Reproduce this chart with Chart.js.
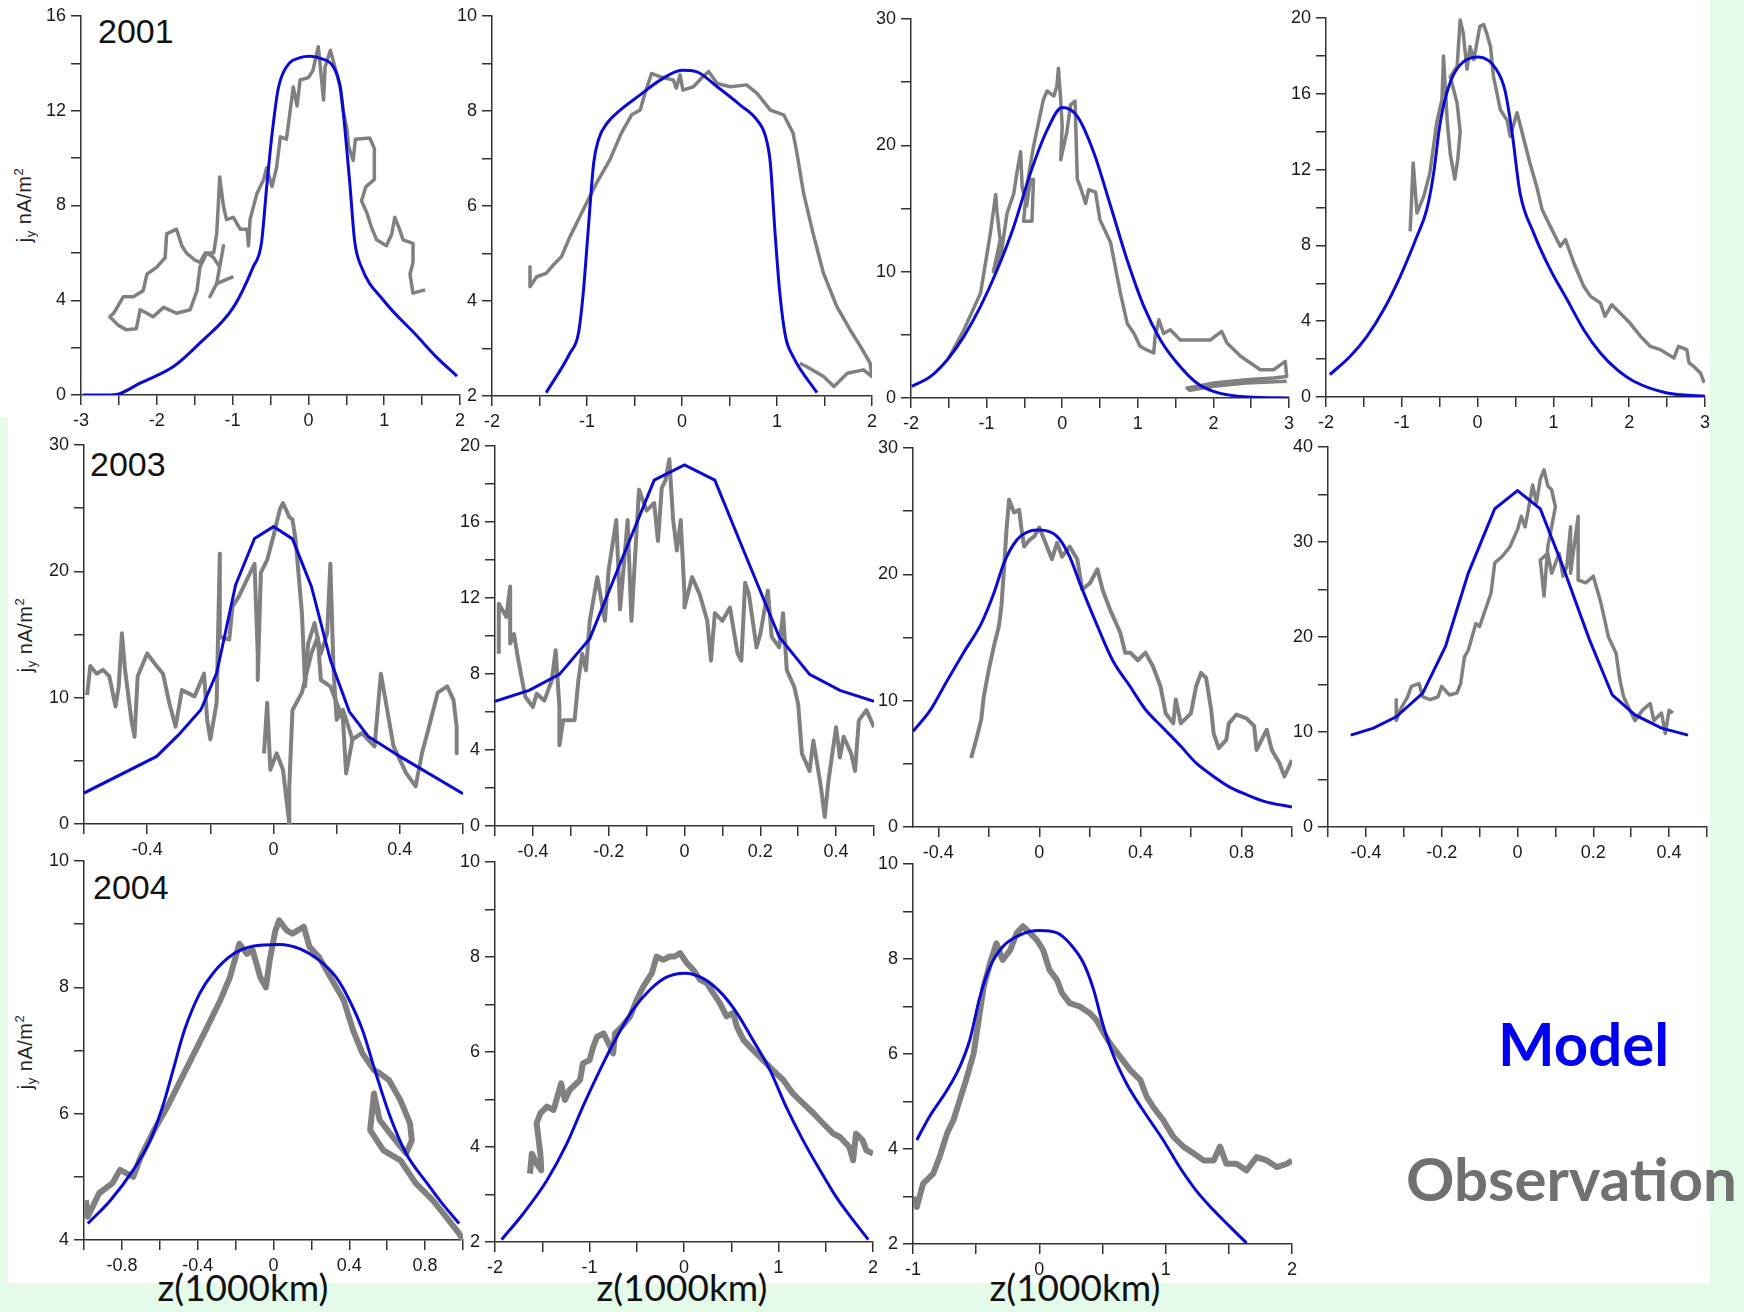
<!DOCTYPE html>
<html>
<head>
<meta charset="utf-8">
<script src="https://cdn.jsdelivr.net/npm/chart.js@4.4.0/dist/chart.umd.min.js"></script>
<style>
  html, body { margin: 0; padding: 0; }
  body { width: 1744px; height: 1312px; background: #e5fbe9; position: relative; overflow: hidden; font-family: "Liberation Sans", Arial, sans-serif; }
  #sheet { position: absolute; left: 8px; top: 0; width: 1702px; height: 1283px; background: #fff; }
  #sheetTop { position: absolute; left: 0; top: 0; width: 10px; height: 417px; background: #fff; }
  canvas { position: absolute; }
  .year { position: absolute; font-size: 34px; line-height: 34px; color: #111; }
  .ytitle { position: absolute; font-size: 20px; line-height: 24px; white-space: nowrap; color: #222; letter-spacing: 0.5px;
            transform: translate(-50%, -50%) rotate(-90deg); }
  .ytitle sub { font-size: 13px; vertical-align: -4px; }
  .ytitle sup { font-size: 13px; vertical-align: 8px; }
  .xtitle { position: absolute; font-family: Lato, sans-serif; font-size: 37px; line-height: 1.2; color: #111; transform: translateX(-50%); white-space: nowrap; }
  .legend { position: absolute; font-family: Lato, sans-serif; font-weight: bold; font-size: 60px; line-height: 1.2; white-space: nowrap; }
</style>
</head>
<body>
<div id="sheet"></div>
<div id="sheetTop"></div>

<div class="year" style="left:98px; top:14px;">2001</div>
<div class="year" style="left:90px; top:447px;">2003</div>
<div class="year" style="left:93px; top:870px;">2004</div>

<div class="ytitle" style="left:25px; top:205px;">j<sub>y</sub> nA/m<sup>2</sup></div>
<div class="ytitle" style="left:26px; top:635px;">j<sub>y</sub> nA/m<sup>2</sup></div>
<div class="ytitle" style="left:26px; top:1052px;">j<sub>y</sub> nA/m<sup>2</sup></div>

<div class="xtitle" style="left:243px; top:1265px;">z(1000km)</div>
<div class="xtitle" style="left:682px; top:1265px;">z(1000km)</div>
<div class="xtitle" style="left:1075px; top:1265px;">z(1000km)</div>

<div class="legend" style="left:1498px; top:1007px; color:#0000f0;">Model</div>
<div class="legend" style="left:1406px; top:1142px; color:#707070;">Observation</div>

<script>
// ---- tick positions and labelled ticks ----
const xTicksM3to2 = [-3, -2.5, -2, -1.5, -1, -0.5, 0, 0.5, 1, 1.5, 2];
const xLabelsM3to2 = [-3, -2, -1, 0, 1, 2];
const xTicksM2to2 = [-2, -1.5, -1, -0.5, 0, 0.5, 1, 1.5, 2];
const xLabelsM2to2 = [-2, -1, 0, 1, 2];
const xTicksM2to3 = [-2, -1.5, -1, -0.5, 0, 0.5, 1, 1.5, 2, 2.5, 3];
const xLabelsM2to3 = [-2, -1, 0, 1, 2, 3];
const xTicksM1to2 = [-1, -0.5, 0, 0.5, 1, 1.5, 2];
const xLabelsM1to2 = [-1, 0, 1, 2];
const xTicksPm06 = [-0.6, -0.4, -0.2, 0, 0.2, 0.4, 0.6];
const xLabelsPm06 = [-0.4, 0, 0.4];
const xTicksPm05 = [-0.5, -0.4, -0.3, -0.2, -0.1, 0, 0.1, 0.2, 0.3, 0.4, 0.5];
const xLabelsPm05 = [-0.4, -0.2, 0, 0.2, 0.4];
const xTicksM05to1 = [-0.4, -0.2, 0, 0.2, 0.4, 0.6, 0.8, 1];
const xLabelsM05to1 = [-0.4, 0, 0.4, 0.8];
const xTicksPm1 = [-1, -0.8, -0.6, -0.4, -0.2, 0, 0.2, 0.4, 0.6, 0.8, 1];
const xLabelsPm1 = [-0.8, -0.4, 0, 0.4, 0.8];

const yTicks0to16 = [0, 2, 4, 6, 8, 10, 12, 14, 16];
const yLabels0to16 = [0, 4, 8, 12, 16];
const yTicks2to10 = [2, 3, 4, 5, 6, 7, 8, 9, 10];
const yLabels2to10 = [2, 4, 6, 8, 10];
const yTicks0to30 = [0, 5, 10, 15, 20, 25, 30];
const yLabels0to30 = [0, 10, 20, 30];
const yTicks0to20 = [0, 2, 4, 6, 8, 10, 12, 14, 16, 18, 20];
const yLabels0to20 = [0, 4, 8, 12, 16, 20];
const yTicks0to40 = [0, 5, 10, 15, 20, 25, 30, 35, 40];
const yLabels0to40 = [0, 10, 20, 30, 40];
const yTicks4to10 = [4, 5, 6, 7, 8, 9, 10];
const yLabels4to10 = [4, 6, 8, 10];

// ---- 2001 ----
const model01a = [[-2.97,0],[-2.66,0],[-2.5,0.05],[-2.22,0.5],[-1.78,1.2],[-1.43,2.2],[-0.99,3.7],[-0.73,5.4],[-0.62,6.4],[-0.55,8.8],[-0.48,11.0],[-0.40,12.9],[-0.29,13.85],[-0.11,14.24],[0.02,14.3],[0.17,14.2],[0.33,13.85],[0.42,13.0],[0.48,11.3],[0.55,8.8],[0.61,6.5],[0.70,5.4],[0.99,4.0],[1.43,2.5],[1.69,1.6],[1.96,0.8]];
const obs01a = [[1.54,4.44],[1.38,4.3],[1.34,5.1],[1.38,5.6],[1.38,6.4],[1.25,6.55],[1.19,7.1],[1.14,7.5],[1.10,6.8],[1.03,6.3],[0.90,6.55],[0.83,7.1],[0.77,7.7],[0.70,8.2],[0.76,8.8],[0.87,9.1],[0.87,10.4],[0.81,10.85],[0.62,10.8],[0.59,9.9],[0.53,10.5],[0.51,11.2],[0.46,12.0],[0.42,13.0],[0.35,13.85],[0.29,14.55],[0.22,13.85],[0.20,12.45],[0.15,14.1],[0.13,14.7],[0.06,13.7],[0.0,13.4],[-0.11,13.3],[-0.15,12.2],[-0.20,13.0],[-0.24,12.0],[-0.29,10.8],[-0.37,10.9],[-0.42,9.6],[-0.48,8.8],[-0.55,9.6],[-0.59,9.1],[-0.68,8.5],[-0.77,7.4],[-0.79,6.3],[-0.81,7.0],[-0.90,7.0],[-0.99,7.5],[-1.08,7.4],[-1.12,7.95],[-1.17,9.2],[-1.19,7.95],[-1.21,6.8],[-1.25,6.0],[-1.36,6.0],[-1.43,5.6],[-1.50,5.7],[-1.61,6.0],[-1.67,6.3],[-1.74,7.0],[-1.87,6.8],[-1.89,5.8],[-2.0,5.4],[-2.13,5.1],[-2.18,4.4],[-2.31,4.15],[-2.44,4.15],[-2.57,3.45],[-2.62,3.3],[-2.51,2.95],[-2.40,2.75],[-2.27,2.8],[-2.22,3.6],[-2.13,3.45],[-2.05,3.3],[-1.91,3.7],[-1.74,3.45],[-1.56,3.6],[-1.47,4.4],[-1.43,5.4],[-1.34,6.0],[-1.25,5.8],[-1.17,5.4],[-1.12,6.3],[-1.21,4.7],[-1.30,4.15],[-1.21,4.7],[-0.99,5.0]];

const model01b = [[-1.43,2.07],[-1.18,2.9],[-1.09,3.32],[-1.04,4.16],[-0.99,5.42],[-0.93,6.9],[-0.88,7.39],[-0.79,7.74],[-0.65,8.02],[-0.44,8.34],[-0.23,8.65],[0.0,8.86],[0.15,8.83],[0.37,8.51],[0.61,8.13],[0.79,7.81],[0.88,7.46],[0.93,6.9],[0.98,5.42],[1.03,4.16],[1.09,3.25],[1.17,2.83],[1.42,2.07]];
const obs01b = [[-1.60,4.72],[-1.6,4.3],[-1.53,4.51],[-1.43,4.58],[-1.34,4.79],[-1.27,4.93],[-1.18,5.35],[-1.04,5.92],[-0.90,6.48],[-0.76,6.97],[-0.64,7.53],[-0.53,7.92],[-0.44,8.02],[-0.39,8.37],[-0.32,8.79],[-0.23,8.72],[-0.09,8.65],[-0.06,8.48],[-0.02,8.76],[0.01,8.44],[0.12,8.51],[0.22,8.72],[0.28,8.83],[0.37,8.58],[0.51,8.51],[0.68,8.55],[0.79,8.37],[0.93,8.02],[1.07,7.92],[1.17,7.53],[1.21,7.11],[1.28,6.27],[1.38,5.42],[1.49,4.58],[1.63,3.88],[1.77,3.39],[1.88,3.04],[1.98,2.69],[2.0,2.41],[1.91,2.55],[1.74,2.48],[1.60,2.2],[1.49,2.41],[1.31,2.62],[1.24,2.69]];

const model01c = [[-1.99,0.92],[-1.74,1.71],[-1.52,3.03],[-1.30,4.88],[-1.08,7.25],[-0.86,10.15],[-0.64,13.58],[-0.42,17.8],[-0.20,21.2],[0.0,23.0],[0.20,22.3],[0.42,19.4],[0.64,15.2],[0.86,10.9],[1.08,7.25],[1.30,4.6],[1.52,2.77],[1.78,1.19],[2.0,0.53],[2.45,0.08],[3.0,0]];
const obs01c = [[-1.50,3.16],[-1.30,5.4],[-1.08,8.3],[-0.95,13.05],[-0.88,16.1],[-0.86,14.6],[-0.82,12.5],[-0.91,10.0],[-0.80,11.7],[-0.73,14.6],[-0.64,16.2],[-0.60,17.8],[-0.55,19.5],[-0.53,16.7],[-0.47,15.2],[-0.42,17.3],[-0.38,17.3],[-0.40,14.0],[-0.51,14.0],[-0.47,16.7],[-0.38,19.9],[-0.25,23.6],[-0.20,24.3],[-0.11,23.9],[-0.07,24.7],[-0.05,26.1],[-0.02,23.6],[0.0,21.5],[-0.02,18.85],[0.06,21.0],[0.11,23.2],[0.17,23.5],[0.20,17.3],[0.24,16.7],[0.31,15.4],[0.35,16.5],[0.44,16.3],[0.50,14.1],[0.64,12.3],[0.77,8.3],[0.86,5.9],[0.95,5.1],[1.03,4.1],[1.12,3.8],[1.21,3.56],[1.23,4.9],[1.28,6.2],[1.34,5.1],[1.43,5.4],[1.56,4.6],[1.74,4.6],[1.96,4.6],[2.11,5.27],[2.18,4.35],[2.36,3.3],[2.62,2.24],[2.80,2.24],[2.95,2.9],[2.97,1.71],[2.80,1.58],[2.44,1.45],[2.0,1.19],[1.78,0.92],[1.65,0.79],[1.69,0.61],[2.0,0.92],[2.44,1.19],[2.97,1.32]];

const model01d = [[-1.95,1.18],[-1.68,2.15],[-1.46,3.2],[-1.24,4.6],[-1.02,6.37],[-0.80,8.48],[-0.67,9.9],[-0.58,11.8],[-0.50,14.3],[-0.41,16.0],[-0.28,17.27],[0.01,17.94],[0.25,17.27],[0.36,16.2],[0.45,14.1],[0.56,10.77],[0.74,8.65],[0.96,6.72],[1.18,5.14],[1.40,3.55],[1.62,2.32],[1.84,1.44],[2.06,0.83],[2.5,0.21],[3.0,0.04]];
const obs01d = [[-0.89,8.74],[-0.85,12.35],[-0.82,10.77],[-0.80,9.71],[-0.71,10.6],[-0.63,11.8],[-0.54,14.46],[-0.47,15.7],[-0.45,18.0],[-0.43,16.6],[-0.40,14.5],[-0.36,12.8],[-0.30,11.5],[-0.26,12.6],[-0.23,14.0],[-0.27,15.5],[-0.36,16.9],[-0.27,17.45],[-0.23,19.9],[-0.19,19.2],[-0.14,17.3],[-0.10,18.5],[-0.05,17.8],[0.03,19.56],[0.08,19.65],[0.12,19.2],[0.17,18.5],[0.21,16.9],[0.30,15.16],[0.39,14.6],[0.43,13.75],[0.52,15.0],[0.61,13.6],[0.69,12.35],[0.78,11.1],[0.85,9.9],[0.96,9.0],[1.09,7.95],[1.16,8.3],[1.27,7.07],[1.40,5.84],[1.49,5.31],[1.62,4.96],[1.68,4.26],[1.77,4.87],[1.88,4.43],[2.01,3.9],[2.15,3.2],[2.28,2.67],[2.41,2.5],[2.59,2.06],[2.65,2.67],[2.76,2.5],[2.79,1.8],[2.85,1.62],[2.94,1.27],[2.99,0.74]];

// ---- 2003 ----
const model03a = [[-0.6,2.45],[-0.37,5.35],[-0.30,7.07],[-0.23,9.04],[-0.18,11.94],[-0.12,18.93],[-0.06,22.6],[0.0,23.54],[0.06,22.57],[0.12,18.8],[0.18,13.0],[0.24,8.9],[0.30,6.93],[0.40,5.35],[0.6,2.4]];
const obs03a = [[-0.59,10.2],[-0.58,12.5],[-0.56,11.9],[-0.54,12.2],[-0.52,11.7],[-0.50,9.3],[-0.49,10.9],[-0.48,15.1],[-0.47,12.2],[-0.45,8.25],[-0.44,6.9],[-0.43,11.7],[-0.40,13.5],[-0.37,12.5],[-0.35,11.9],[-0.33,9.6],[-0.31,7.7],[-0.29,10.6],[-0.25,10.1],[-0.22,11.9],[-0.21,8.25],[-0.20,6.7],[-0.18,9.6],[-0.17,21.4],[-0.17,14.8],[-0.14,14.6],[-0.13,17.2],[-0.11,18.0],[-0.06,20.6],[-0.05,13.5],[-0.05,11.4],[-0.04,19.9],[-0.02,20.9],[0.0,22.8],[0.02,24.9],[0.03,25.4],[0.05,24.3],[0.06,24.1],[0.07,22.5],[0.09,16.7],[0.10,10.9],[0.11,14.3],[0.13,15.9],[0.15,13.5],[0.17,15.1],[0.18,20.6],[0.19,12.2],[0.20,8.25],[0.22,9.04],[0.25,6.7],[0.28,7.2],[0.32,6.14],[0.34,11.9],[0.36,9.04],[0.38,6.14],[0.42,4.03],[0.45,2.98],[0.47,5.6],[0.49,7.46],[0.52,10.4],[0.55,10.9],[0.57,9.8],[0.58,7.7],[0.58,5.6]];
const obs03aLow = [[-0.03,5.6],[-0.02,9.6],[-0.01,4.3],[0.01,5.6],[0.03,4.3],[0.05,0],[0.05,3.0],[0.06,9.0],[0.09,10.4],[0.12,13.5],[0.14,14.8],[0.15,11.4],[0.18,10.9],[0.20,9.6],[0.22,8.25],[0.23,4.0],[0.25,6.7],[0.28,7.2]];

const model03b = [[-0.5,6.56],[-0.41,7.14],[-0.33,7.98],[-0.25,9.86],[-0.17,13.8],[-0.08,18.2],[0.0,19.0],[0.08,18.2],[0.16,14.3],[0.25,9.95],[0.33,7.98],[0.41,7.14],[0.5,6.56]];
const obs03b = [[-0.49,9.07],[-0.49,11.7],[-0.47,11.0],[-0.46,12.6],[-0.46,9.6],[-0.45,10.1],[-0.44,8.9],[-0.43,7.84],[-0.42,6.8],[-0.40,6.26],[-0.39,6.96],[-0.37,6.6],[-0.35,7.67],[-0.34,9.25],[-0.33,6.26],[-0.33,4.25],[-0.32,5.56],[-0.29,5.56],[-0.28,7.67],[-0.27,9.07],[-0.26,8.19],[-0.25,10.8],[-0.23,13.1],[-0.21,10.8],[-0.20,13.5],[-0.18,16.1],[-0.17,11.4],[-0.15,16.1],[-0.14,10.8],[-0.13,14.3],[-0.12,17.7],[-0.10,16.6],[-0.08,17.0],[-0.07,15.0],[-0.06,17.8],[-0.05,18.2],[-0.04,19.3],[-0.03,16.1],[-0.02,14.5],[-0.01,16.1],[0.0,12.2],[0.0,11.5],[0.02,13.1],[0.04,12.2],[0.06,10.8],[0.07,8.7],[0.08,11.2],[0.10,10.8],[0.12,11.5],[0.14,9.07],[0.15,8.7],[0.16,12.8],[0.17,12.2],[0.19,9.4],[0.20,10.1],[0.22,12.4],[0.23,9.95],[0.25,9.4],[0.26,11.2],[0.27,8.2],[0.29,7.3],[0.30,6.4],[0.31,3.8],[0.33,2.9],[0.34,4.5],[0.36,2.05],[0.37,0.47],[0.38,2.4],[0.39,3.8],[0.40,5.2],[0.41,3.6],[0.42,4.7],[0.44,3.8],[0.45,2.9],[0.46,5.56],[0.48,6.1],[0.50,5.2]];

const model03c = [[-0.5,7.57],[-0.43,9.29],[-0.37,11.4],[-0.30,13.8],[-0.23,16.1],[-0.18,18.5],[-0.14,20.9],[-0.09,22.7],[-0.04,23.4],[0.0,23.5],[0.07,23.0],[0.12,21.4],[0.16,19.3],[0.23,15.9],[0.29,13.2],[0.36,11.1],[0.42,9.3],[0.49,7.84],[0.56,6.39],[0.62,5.07],[0.69,4.0],[0.75,3.2],[0.82,2.56],[0.89,2.03],[1.0,1.58]];
const obs03c = [[-0.27,5.46],[-0.25,6.9],[-0.23,8.5],[-0.22,10.3],[-0.20,12.45],[-0.18,14.3],[-0.16,15.9],[-0.15,17.5],[-0.14,20.4],[-0.13,23.5],[-0.12,25.9],[-0.10,24.9],[-0.08,25.1],[-0.07,23.5],[-0.06,22.2],[-0.04,22.7],[-0.02,23.0],[0.0,23.7],[0.03,22.2],[0.05,21.2],[0.07,22.5],[0.09,21.4],[0.12,22.2],[0.15,21.2],[0.17,18.8],[0.20,19.3],[0.23,20.4],[0.25,18.8],[0.28,17.2],[0.32,15.4],[0.34,13.8],[0.36,13.8],[0.39,13.2],[0.42,13.8],[0.45,12.7],[0.48,11.1],[0.50,9.0],[0.53,8.2],[0.54,10.1],[0.56,8.2],[0.60,9.0],[0.62,11.1],[0.64,12.2],[0.66,11.8],[0.68,9.3],[0.69,7.4],[0.71,6.25],[0.74,6.9],[0.75,8.2],[0.78,8.9],[0.82,8.6],[0.85,8.0],[0.86,6.1],[0.90,7.7],[0.92,6.1],[0.95,5.07],[0.97,4.0],[1.0,5.3]];

const model03d = [[-0.44,9.67],[-0.38,10.4],[-0.32,11.6],[-0.25,14.1],[-0.19,19.0],[-0.13,26.7],[-0.06,33.5],[0.0,35.4],[0.06,33.5],[0.12,27.4],[0.19,19.7],[0.25,13.9],[0.31,11.8],[0.38,10.4],[0.45,9.67]];
const obs03d = [[-0.32,13.4],[-0.32,11.2],[-0.31,12.3],[-0.29,13.7],[-0.28,14.8],[-0.26,15.1],[-0.25,13.7],[-0.23,13.4],[-0.21,13.7],[-0.20,14.8],[-0.18,13.9],[-0.16,14.1],[-0.15,15.1],[-0.14,17.9],[-0.13,18.6],[-0.11,21.4],[-0.10,21.1],[-0.07,24.6],[-0.06,27.8],[-0.04,28.5],[-0.02,29.5],[0.0,31.3],[0.01,32.7],[0.02,31.6],[0.03,33.7],[0.04,36.0],[0.05,34.1],[0.06,36.6],[0.07,37.6],[0.08,35.9],[0.09,35.5],[0.10,33.7],[0.08,29.5],[0.07,24.3],[0.06,28.1],[0.08,28.8],[0.09,26.7],[0.11,28.8],[0.12,26.4],[0.13,27.4],[0.14,31.6],[0.14,26.7],[0.16,32.7],[0.16,26.0],[0.18,25.7],[0.20,26.4],[0.22,23.6],[0.23,21.8],[0.24,20.0],[0.26,18.3],[0.27,15.5],[0.28,13.7],[0.30,12.0],[0.31,11.2],[0.33,12.3],[0.35,13.0],[0.36,11.2],[0.38,12.0],[0.39,9.84],[0.40,12.3],[0.41,12.0]];

// ---- 2004 ----
const model04a = [[-0.98,4.26],[-0.86,4.63],[-0.74,5.11],[-0.65,5.58],[-0.58,6.16],[-0.53,6.69],[-0.47,7.32],[-0.39,7.9],[-0.32,8.22],[-0.21,8.53],[-0.11,8.65],[0.03,8.68],[0.14,8.61],[0.24,8.43],[0.33,8.16],[0.40,7.8],[0.47,7.32],[0.54,6.64],[0.61,6.0],[0.70,5.37],[0.81,4.9],[0.89,4.58],[0.98,4.26]];
const obs04a = [[-0.99,4.63],[-0.98,4.37],[-0.92,4.74],[-0.85,4.9],[-0.81,5.11],[-0.74,5.0],[-0.70,5.32],[-0.63,5.74],[-0.56,6.11],[-0.49,6.53],[-0.42,6.95],[-0.35,7.37],[-0.28,7.8],[-0.23,8.16],[-0.18,8.69],[-0.14,8.53],[-0.11,8.59],[-0.07,8.16],[-0.04,8.0],[-0.02,8.43],[0.01,8.9],[0.03,9.06],[0.07,8.9],[0.10,8.85],[0.16,8.96],[0.19,8.64],[0.24,8.48],[0.31,8.11],[0.37,7.8],[0.42,7.32],[0.47,6.95],[0.53,6.69],[0.56,6.64],[0.61,6.53],[0.67,6.21],[0.72,5.85],[0.73,5.58],[0.70,5.37],[0.63,5.63],[0.56,5.9],[0.53,6.32],[0.51,5.74],[0.58,5.42],[0.67,5.26],[0.75,4.9],[0.84,4.63],[0.91,4.37],[0.98,4.1],[1.0,4.0]];

const model04b = [[-1.93,2.05],[-1.70,2.6],[-1.45,3.3],[-1.24,4.07],[-1.07,4.85],[-0.89,5.62],[-0.71,6.32],[-0.54,6.89],[-0.36,7.31],[-0.19,7.57],[0.01,7.66],[0.20,7.55],[0.38,7.27],[0.56,6.82],[0.73,6.25],[0.91,5.62],[1.08,4.85],[1.26,4.14],[1.44,3.51],[1.61,2.95],[1.79,2.46],[1.95,2.05]];
const obs04b = [[-1.63,3.44],[-1.61,3.86],[-1.56,3.65],[-1.51,3.51],[-1.52,3.86],[-1.56,4.5],[-1.52,4.71],[-1.45,4.85],[-1.38,4.78],[-1.33,5.13],[-1.30,5.34],[-1.26,4.99],[-1.21,5.2],[-1.10,5.41],[-1.07,5.76],[-1.0,5.83],[-0.96,6.11],[-0.92,6.32],[-0.85,6.39],[-0.78,6.11],[-0.75,5.97],[-0.73,6.39],[-0.66,6.53],[-0.57,6.75],[-0.50,7.1],[-0.43,7.38],[-0.34,7.66],[-0.29,8.01],[-0.22,7.94],[-0.15,8.01],[-0.10,8.01],[-0.04,8.08],[0.03,7.87],[0.10,7.73],[0.17,7.52],[0.24,7.45],[0.31,7.24],[0.38,7.03],[0.45,6.75],[0.52,6.82],[0.56,6.53],[0.63,6.25],[0.73,6.04],[0.80,5.9],[0.87,5.76],[0.94,5.62],[1.05,5.41],[1.15,5.13],[1.26,4.92],[1.37,4.71],[1.47,4.5],[1.58,4.28],[1.65,4.21],[1.75,4.0],[1.79,3.72],[1.82,4.28],[1.89,4.14],[1.93,3.93],[2.0,3.86]];

const model04c = [[-0.97,4.19],[-0.87,4.68],[-0.73,5.24],[-0.63,5.73],[-0.55,6.3],[-0.47,7.21],[-0.39,7.84],[-0.29,8.26],[-0.15,8.51],[0.0,8.6],[0.14,8.55],[0.24,8.33],[0.35,7.91],[0.43,7.35],[0.50,6.65],[0.58,6.01],[0.69,5.38],[0.82,4.82],[0.98,4.19],[1.11,3.62],[1.24,3.13],[1.38,2.71],[1.51,2.36],[1.64,2.02]];
const obs04c = [[-1.0,2.99],[-0.97,2.78],[-0.92,3.27],[-0.84,3.48],[-0.79,3.83],[-0.73,4.33],[-0.68,4.61],[-0.63,5.03],[-0.58,5.45],[-0.52,6.01],[-0.48,6.72],[-0.44,7.42],[-0.39,7.91],[-0.34,8.33],[-0.29,7.98],[-0.23,8.19],[-0.18,8.54],[-0.13,8.69],[-0.07,8.54],[-0.02,8.4],[0.03,8.19],[0.08,7.77],[0.14,7.56],[0.18,7.28],[0.24,7.07],[0.32,7.0],[0.40,6.86],[0.45,6.72],[0.51,6.44],[0.56,6.22],[0.64,5.94],[0.72,5.66],[0.80,5.45],[0.85,5.1],[0.90,4.89],[0.98,4.61],[1.06,4.26],[1.14,4.05],[1.22,3.91],[1.30,3.76],[1.38,3.76],[1.43,4.05],[1.48,3.69],[1.56,3.69],[1.64,3.55],[1.72,3.83],[1.80,3.76],[1.88,3.62],[1.96,3.69],[2.0,3.76]];

// ---- styling ----
const MODEL_COLOR = '#0a0ad2';
const OBS_COLOR = '#808080';
const AXIS_COLOR = '#333';
const Y_AXIS_W = 56, X_AXIS_H = 36, PAD_TOP = 16, PAD_RIGHT = 22;

// plot-area box [left, top, right, bottom] on the page for each panel;
// smooth=false keeps the model as straight segments between its nodes
const panels = [
  { box: [81, 16, 460, 395],   x: [-3, 2, xTicksM3to2, xLabelsM3to2],    y: [0, 16, yTicks0to16, yLabels0to16], model: model01a, smooth: true,  obs: [obs01a], obsW: 3.5 },
  { box: [492, 16, 872, 396],  x: [-2, 2, xTicksM2to2, xLabelsM2to2],    y: [2, 10, yTicks2to10, yLabels2to10], model: model01b, smooth: true,  obs: [obs01b], obsW: 3.5 },
  { box: [911, 19, 1289, 398], x: [-2, 3, xTicksM2to3, xLabelsM2to3],    y: [0, 30, yTicks0to30, yLabels0to30], model: model01c, smooth: true,  obs: [obs01c], obsW: 3.5 },
  { box: [1326, 18, 1705, 397],x: [-2, 3, xTicksM2to3, xLabelsM2to3],    y: [0, 20, yTicks0to20, yLabels0to20], model: model01d, smooth: true,  obs: [obs01d], obsW: 3.5 },
  { box: [84, 445, 463, 824],  x: [-0.6, 0.6, xTicksPm06, xLabelsPm06],  y: [0, 30, yTicks0to30, yLabels0to30], model: model03a, smooth: false, obs: [obs03a, obs03aLow], obsW: 4 },
  { box: [495, 446, 874, 826], x: [-0.5, 0.5, xTicksPm05, xLabelsPm05],  y: [0, 20, yTicks0to20, yLabels0to20], model: model03b, smooth: false, obs: [obs03b], obsW: 4 },
  { box: [913, 448, 1292, 827],x: [-0.5, 1, xTicksM05to1, xLabelsM05to1],y: [0, 30, yTicks0to30, yLabels0to30], model: model03c, smooth: true,  obs: [obs03c], obsW: 4 },
  { box: [1328, 447, 1707, 827],x:[-0.5, 0.5, xTicksPm05, xLabelsPm05],  y: [0, 40, yTicks0to40, yLabels0to40], model: model03d, smooth: false, obs: [obs03d], obsW: 3.5 },
  { box: [84, 861, 463, 1240], x: [-1, 1, xTicksPm1, xLabelsPm1],        y: [4, 10, yTicks4to10, yLabels4to10], model: model04a, smooth: true,  obs: [obs04a], obsW: 6 },
  { box: [495, 862, 873, 1242],x: [-2, 2, xTicksM2to2, xLabelsM2to2],    y: [2, 10, yTicks2to10, yLabels2to10], model: model04b, smooth: true,  obs: [obs04b], obsW: 6 },
  { box: [913, 864, 1292, 1244],x:[-1, 2, xTicksM1to2, xLabelsM1to2],    y: [2, 10, yTicks2to10, yLabels2to10], model: model04c, smooth: true,  obs: [obs04c], obsW: 6 }
];

function toPoints(pairs) {
  return pairs.map(p => ({ x: p[0], y: p[1] }));
}

function makeAxis(spec, isX) {
  const [min, max, ticks, labels] = spec;
  return {
    type: 'linear',
    position: isX ? 'bottom' : 'left',
    min: min,
    max: max,
    border: { display: true, color: AXIS_COLOR, width: 1.5 },
    grid: { drawOnChartArea: false, drawTicks: true, tickLength: 10, color: AXIS_COLOR, lineWidth: 1.5 },
    ticks: {
      autoSkip: false,
      maxRotation: 0,
      padding: isX ? 5 : 5,
      color: '#1a1a1a',
      font: { family: 'Liberation Sans', size: 18 },
      callback: function(value) {
        return labels.some(l => Math.abs(l - value) < 1e-9) ? String(value) : '';
      }
    },
    afterBuildTicks: function(axis) {
      axis.ticks = ticks.map(v => ({ value: v }));
    },
    afterFit: function(axis) {
      if (isX) axis.height = X_AXIS_H;
      else axis.width = Y_AXIS_W;
    }
  };
}

panels.forEach(panel => {
  const [l, t, r, b] = panel.box;
  const canvas = document.createElement('canvas');
  const w = Y_AXIS_W + (r - l) + PAD_RIGHT;
  const h = PAD_TOP + (b - t) + X_AXIS_H;
  canvas.width = w;
  canvas.height = h;
  canvas.style.left = (l - Y_AXIS_W) + 'px';
  canvas.style.top = (t - PAD_TOP) + 'px';
  canvas.style.width = w + 'px';
  canvas.style.height = h + 'px';
  document.body.appendChild(canvas);

  // model first so it is painted on top of the observations
  const modelSet = {
    data: toPoints(panel.model),
    showLine: true,
    borderColor: MODEL_COLOR,
    borderWidth: 3,
    pointRadius: 0,
    tension: 0
  };
  if (panel.smooth) modelSet.cubicInterpolationMode = 'monotone';
  const datasets = [modelSet];
  panel.obs.forEach(track => {
    datasets.push({
      data: toPoints(track),
      showLine: true,
      borderColor: OBS_COLOR,
      borderWidth: panel.obsW,
      borderJoinStyle: 'round',
      pointRadius: 0,
      tension: 0
    });
  });

  new Chart(canvas.getContext('2d'), {
    type: 'scatter',
    data: { datasets: datasets },
    options: {
      responsive: false,
      maintainAspectRatio: false,
      animation: false,
      events: [],
      layout: { padding: { top: PAD_TOP, right: PAD_RIGHT, left: 0, bottom: 0 } },
      plugins: { legend: { display: false }, tooltip: { enabled: false } },
      scales: {
        x: makeAxis(panel.x, true),
        y: makeAxis(panel.y, false)
      }
    }
  });
});
</script>
</body>
</html>
